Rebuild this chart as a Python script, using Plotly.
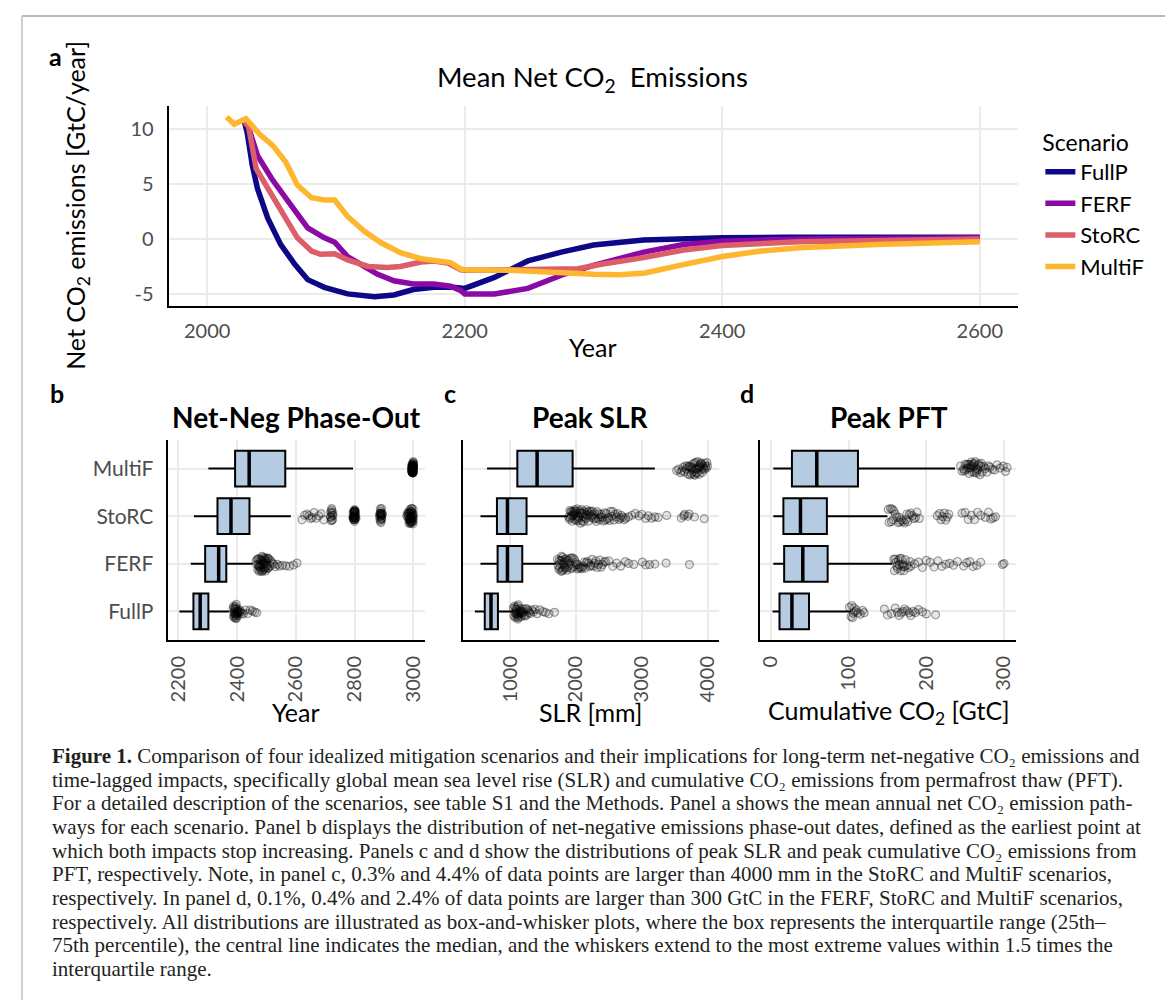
import plotly.graph_objects as go

W, H = 1173, 1000
def px(x): return x / W
def py(y): return 1 - y / H

# ---------------- DATA ----------------
scenarios = ["FullP", "FERF", "StoRC", "MultiF"]
colors = {"FullP": "#0d0887", "FERF": "#8b0aa5", "StoRC": "#dc5e69", "MultiF": "#feb62f"}

# Panel a: mean net CO2 emissions [GtC/year]
fullp_years = [2029, 2031, 2035, 2039, 2047, 2057, 2068, 2078, 2091, 2109, 2130, 2145, 2160, 2176, 2191,
               2200, 2223, 2249, 2275, 2300, 2339, 2370, 2400, 2450, 2500, 2550, 2600]
fullp_vals = [10.6, 9.7, 6.7, 4.6, 1.9, -0.5, -2.3, -3.7, -4.4, -5.0, -5.25, -5.1, -4.6, -4.4, -4.4,
              -4.5, -3.5, -2.0, -1.2, -0.55, -0.1, 0.05, 0.1, 0.15, 0.15, 0.15, 0.15]
ferf_years = [2029, 2032, 2039, 2050, 2063, 2078, 2091, 2099, 2109, 2119, 2132, 2145, 2160, 2176, 2189,
              2197, 2200, 2223, 2249, 2275, 2300, 2339, 2370, 2400, 2460, 2520, 2600]
ferf_vals = [10.6, 10.2, 7.6, 5.5, 3.4, 1.0, 0.1, -0.3, -1.6, -2.3, -3.2, -3.8, -4.1, -4.1, -4.3,
             -4.7, -5.0, -5.0, -4.5, -3.3, -2.4, -1.2, -0.5, -0.2, 0.0, 0.05, 0.1]
storc_years = [2029, 2032, 2038, 2050, 2060, 2070, 2081, 2088, 2099, 2109, 2125, 2140, 2150, 2166, 2176,
               2187, 2197, 2200, 2236, 2288, 2306, 2339, 2370, 2400, 2460, 2520, 2600]
storc_vals = [10.6, 10.3, 6.4, 4.0, 2.2, 0.1, -1.1, -1.4, -1.35, -1.9, -2.5, -2.6, -2.5, -2.1, -2.0,
              -2.2, -2.8, -2.85, -2.8, -2.7, -2.3, -1.7, -1.0, -0.6, -0.25, -0.1, 0.0]
multif_years = [2015, 2021, 2030, 2041, 2051, 2061, 2070, 2081, 2091, 2099, 2109, 2122, 2135, 2150, 2166,
                2181, 2189, 2197, 2200, 2236, 2275, 2300, 2320, 2340, 2367, 2400, 2430, 2460, 2520, 2600]
multif_vals = [11.1, 10.45, 10.95, 9.5, 8.5, 7.0, 4.9, 3.75, 3.55, 3.55, 2.05, 0.7, -0.35, -1.25, -1.8,
               -2.0, -2.15, -2.75, -2.8, -2.85, -3.1, -3.2, -3.25, -3.1, -2.4, -1.6, -1.1, -0.8, -0.5, -0.25]

# Panel b: net-negative phase-out year (box stats per scenario, order = scenarios)
po_low = [2203, 2242, 2253, 2302]
po_q1 = [2251, 2291, 2333, 2393]
po_med = [2274, 2337, 2379, 2441]
po_q3 = [2302, 2363, 2442, 2564]
po_high = [2374, 2453, 2583, 2795]
po_out_fullp = [2386, 2388, 2389, 2390, 2391, 2392, 2393, 2394, 2395, 2396, 2397, 2398, 2399, 2400, 2401,
                2402, 2403, 2405, 2407, 2409, 2412, 2416, 2421, 2428, 2436, 2444, 2452, 2460, 2467,
                2388, 2391, 2394, 2397, 2400, 2392, 2396]
po_out_ferf = [2465, 2467, 2469, 2471, 2472, 2474, 2475, 2476, 2478, 2479, 2480, 2481, 2483, 2484, 2485,
               2486, 2487, 2489, 2490, 2491, 2492, 2493, 2495, 2496, 2497, 2498, 2500, 2501, 2503, 2505,
               2507, 2509, 2512, 2515, 2519, 2524, 2530, 2537, 2545, 2555, 2566, 2578, 2592, 2604,
               2470, 2476, 2482, 2488, 2494, 2499, 2504]
po_out_storc = [2621, 2630, 2638, 2645, 2650, 2656, 2662, 2670, 2678, 2686, 2695,
                2718, 2719, 2720, 2720, 2721, 2722, 2722, 2723, 2724, 2725, 2726, 2727,
                2794, 2795, 2796, 2797, 2798, 2798, 2799, 2799, 2800, 2800, 2800, 2801, 2801, 2802, 2802,
                2803, 2804, 2805, 2796, 2798, 2800, 2802, 2799, 2801, 2797, 2803, 2800, 2799, 2801,
                2885, 2886, 2887, 2888, 2889, 2890, 2890, 2891, 2892, 2893, 2894, 2895, 2888, 2890, 2892,
                2889, 2891, 2887, 2893, 2890,
                2978, 2980, 2982, 2984, 2985, 2986, 2987, 2988, 2989, 2990, 2990, 2991, 2992, 2993, 2994,
                2995, 2995, 2996, 2997, 2998, 2999, 3000, 3000, 3000, 2983, 2986, 2989, 2992, 2995, 2998,
                2988, 2991, 2994, 2997, 3000, 2985, 2990, 2995, 3000, 2993]
po_out_multif = [2995, 2996, 2996, 2997, 2997, 2998, 2998, 2998, 2999, 2999, 2999, 3000, 3000, 3000, 3000,
                 2995, 2996, 2997, 2998, 2999, 3000, 3000, 2996, 2997, 2998, 2999, 3000, 2995, 2997, 2999,
                 3000, 2996, 2998, 3000, 2997, 2999, 3000, 2998, 2996, 3000, 2997, 2998, 2999, 3000, 2996,
                 2998, 3000, 2997, 2999, 2995, 2998, 3000, 2996, 2999, 2997, 3000, 2998, 2999, 3000, 2997]

# Panel c: peak SLR [mm]
slr_low = [465, 550, 550, 650]
slr_q1 = [615, 810, 800, 1110]
slr_med = [710, 960, 960, 1410]
slr_q3 = [815, 1185, 1250, 1950]
slr_high = [1050, 1700, 1875, 3200]
slr_out_fullp = [1050, 1058, 1065, 1072, 1078, 1083, 1088, 1092, 1096, 1100, 1104, 1108, 1112, 1116, 1120,
                 1125, 1130, 1135, 1140, 1146, 1152, 1158, 1165, 1172, 1180, 1188, 1196, 1205, 1215, 1225,
                 1236, 1248, 1260, 1275, 1290, 1310, 1330, 1355, 1380, 1410, 1450, 1500, 1540, 1590, 1675]
slr_out_ferf = [1720, 1730, 1740, 1748, 1755, 1762, 1770, 1776, 1782, 1788, 1795, 1800, 1806, 1812, 1818,
                1825, 1832, 1840, 1848, 1856, 1865, 1874, 1883, 1892, 1902, 1912, 1922, 1933, 1944, 1955,
                1967, 1980, 1993, 2006, 2020, 2034, 2048, 2062, 2077, 2092, 2108, 2124, 2140, 2157, 2174,
                2192, 2210, 2228, 2246, 2265, 2284, 2303, 2323, 2343, 2364, 2385, 2406, 2428, 2450, 2500,
                2560, 2620, 2680, 2750, 2800, 2880, 3010, 3060, 3120, 3200, 3370, 3725]
slr_out_storc = [1890, 1900, 1908, 1915, 1922, 1930, 1937, 1944, 1950, 1957, 1964, 1970, 1977, 1984, 1990,
                 1997, 2004, 2010, 2018, 2025, 2032, 2040, 2047, 2055, 2062, 2070, 2078, 2086, 2094, 2102,
                 2110, 2118, 2126, 2135, 2144, 2153, 2162, 2171, 2180, 2190, 2200, 2210, 2220, 2230, 2240,
                 2250, 2262, 2274, 2286, 2298, 2310, 2323, 2336, 2349, 2362, 2376, 2390, 2404, 2418, 2433,
                 2448, 2463, 2478, 2494, 2510, 2527, 2544, 2561, 2579, 2597, 2615, 2634, 2653, 2672, 2692,
                 2712, 2733, 2755, 2800, 2850, 2900, 2960, 3000, 3060, 3100, 3150, 3200, 3250, 3380, 3600,
                 3640, 3650, 3700, 3720, 3800, 3950]
slr_out_multif = [3530, 3560, 3590, 3610, 3630, 3650, 3665, 3680, 3695, 3705, 3715, 3725, 3735, 3745, 3755,
                  3762, 3770, 3778, 3785, 3792, 3800, 3808, 3815, 3822, 3830, 3838, 3845, 3852, 3860, 3868,
                  3875, 3882, 3890, 3898, 3905, 3912, 3920, 3930, 3940, 3950, 3960, 3970, 3980, 3990, 4000]

# Panel d: peak cumulative CO2 from permafrost thaw [GtC]
pft_low = [2, 3, 3, 3]
pft_q1 = [11, 17, 16, 27]
pft_med = [27, 41, 38, 59]
pft_q3 = [49, 73, 72, 112]
pft_high = [103, 156, 150, 237]
pft_out_fullp = [101, 103, 104, 105, 106, 107, 108, 110, 112, 115, 118, 120,
                 146, 150, 155, 160, 163, 165, 168, 170, 172, 175, 178, 180, 183, 186, 190, 195, 200, 212]
pft_out_ferf = [158, 159, 160, 161, 162, 163, 164, 165, 166, 167, 168, 169, 170, 171, 172, 173, 175, 177,
                179, 180, 185, 190, 195, 200, 205, 210, 215, 220, 225, 230, 235, 240, 248, 252, 256, 260,
                265, 270, 298, 300]
pft_out_storc = [151, 152, 154, 155, 156, 157, 158, 160, 162, 164, 165, 166, 168, 170, 172, 174, 175, 176,
                 178, 180, 182, 184, 186, 188, 191, 214, 217, 219, 221, 223, 225, 227, 229,
                 246, 250, 254, 258, 262, 266, 270, 276, 280, 283, 286, 289]
pft_out_multif = [244, 246, 248, 249, 250, 251, 252, 253, 254, 255, 256, 257, 258, 259, 260, 261, 262, 263,
                  264, 265, 266, 267, 268, 269, 270, 271, 272, 274, 276, 278, 280, 282, 285, 288, 291, 295,
                  299, 302, 304, 255, 258, 262, 265]

caption_lines = [
    "<b>Figure 1.</b> Comparison of four idealized mitigation scenarios and their implications for long-term net-negative CO₂ emissions and",
    "time-lagged impacts, specifically global mean sea level rise (SLR) and cumulative CO₂ emissions from permafrost thaw (PFT).",
    "For a detailed description of the scenarios, see table S1 and the Methods. Panel a shows the mean annual net CO₂ emission path-",
    "ways for each scenario. Panel b displays the distribution of net-negative emissions phase-out dates, defined as the earliest point at",
    "which both impacts stop increasing. Panels c and d show the distributions of peak SLR and peak cumulative CO₂ emissions from",
    "PFT, respectively. Note, in panel c, 0.3% and 4.4% of data points are larger than 4000 mm in the StoRC and MultiF scenarios,",
    "respectively. In panel d, 0.1%, 0.4% and 2.4% of data points are larger than 300 GtC in the FERF, StoRC and MultiF scenarios,",
    "respectively. All distributions are illustrated as box-and-whisker plots, where the box represents the interquartile range (25th–",
    "75th percentile), the central line indicates the median, and the whiskers extend to the most extreme values within 1.5 times the",
    "interquartile range.",
]

# ---------------- FIGURE ----------------
FONT = "Lato"
GRID = "#ebebeb"
TICK = "#4d4d4d"
fig = go.Figure()

series = [("FullP", fullp_years, fullp_vals), ("FERF", ferf_years, ferf_vals),
          ("StoRC", storc_years, storc_vals), ("MultiF", multif_years, multif_vals)]
for name, xs, ys in series:
    fig.add_trace(go.Scatter(x=xs, y=ys, mode="lines", name=name,
                             line=dict(color=colors[name], width=5.5), xaxis="x", yaxis="y"))

BOXFILL = "#b4cbe2"
def add_box_panel(ax, low, q1, med, q3, high, outs):
    xa, ya = ("x" + ax, "y" + ax)
    fig.add_trace(go.Box(y=scenarios, q1=q1, median=med, q3=q3, lowerfence=low, upperfence=high,
                         orientation="h", boxpoints=False, width=0.75, whiskerwidth=0,
                         fillcolor=BOXFILL, line=dict(color="black", width=2),
                         showlegend=False, xaxis=xa, yaxis=ya, hoverinfo="skip"))
    fig.add_trace(go.Box(y=scenarios, q1=med, median=med, q3=med, lowerfence=med, upperfence=med,
                         orientation="h", boxpoints=False, width=0.75, whiskerwidth=0,
                         fillcolor="rgba(0,0,0,0)", line=dict(color="black", width=3.5),
                         showlegend=False, xaxis=xa, yaxis=ya, hoverinfo="skip"))
    xs, ys = [], []
    for s, vals in zip(scenarios, outs):
        xs += vals
        ys += [s] * len(vals)
    fig.add_trace(go.Box(x=xs, y=ys, orientation="h", boxpoints="all", jitter=0.45, pointpos=0,
                         width=0.75, fillcolor="rgba(0,0,0,0)",
                         line=dict(color="rgba(0,0,0,0)", width=0),
                         marker=dict(symbol="circle", size=8, color="rgba(0,0,0,0.1)",
                                     line=dict(width=1.2, color="rgba(0,0,0,0.35)")),
                         showlegend=False, xaxis=xa, yaxis=ya, hoverinfo="skip"))

add_box_panel("2", po_low, po_q1, po_med, po_q3, po_high,
              [po_out_fullp, po_out_ferf, po_out_storc, po_out_multif])
add_box_panel("3", slr_low, slr_q1, slr_med, slr_q3, slr_high,
              [slr_out_fullp, slr_out_ferf, slr_out_storc, slr_out_multif])
add_box_panel("4", pft_low, pft_q1, pft_med, pft_q3, pft_high,
              [pft_out_fullp, pft_out_ferf, pft_out_storc, pft_out_multif])

def axis_common(size=20):
    return dict(showgrid=True, gridcolor=GRID, gridwidth=1.6, zeroline=False, showline=True,
                linecolor="black", linewidth=2, ticks="",
                tickfont=dict(family=FONT, size=size, color=TICK))

layout = dict(
    width=W, height=H, margin=dict(l=0, r=0, t=0, b=0),
    paper_bgcolor="white", plot_bgcolor="white", boxmode="overlay",
    font=dict(family=FONT, color="black"),
    xaxis=dict(domain=[px(158), px(1010)], range=[1970, 2630], tickvals=[2000, 2200, 2400, 2600],
               anchor="y", ticklabelstandoff=6, **axis_common(20)),
    yaxis=dict(domain=[py(298), py(98)], range=[-6.1, 12.1], tickvals=[-5, 0, 5, 10],
               ticktext=["-5", "0", "5", "10"], anchor="x", ticklabelstandoff=9, **axis_common(20)),
    legend=dict(x=px(1032), y=py(113), xanchor="left", yanchor="top",
                font=dict(family=FONT, size=22, color="black"),
                title=dict(text="Scenario", font=dict(family=FONT, size=23, color="black")),
                bgcolor="rgba(0,0,0,0)", itemwidth=30),
)
panel_x = {"2": (157, 415, [2163, 3040], [2200, 2400, 2600, 2800, 3000]),
           "3": (453, 710, [282, 4177], [1000, 2000, 3000, 4000]),
           "4": (751, 1008, [-14, 316], [0, 100, 200, 300])}
for k, (l, r, rng, tv) in panel_x.items():
    layout["xaxis" + k] = dict(domain=[px(l), px(r)], range=rng, tickvals=tv, tickangle=-90,
                               anchor="y" + k, ticklabelstandoff=6, **axis_common(20))
    layout["yaxis" + k] = dict(domain=[py(632), py(432)], type="category", categoryorder="array",
                               categoryarray=scenarios, range=[-0.6, 3.6], anchor="x" + k,
                               showticklabels=(k == "2"), ticklabelstandoff=8, **axis_common(21))
fig.update_layout(**layout)

ann = []
def text(x, y, t, size, bold=False, angle=0, xanchor="center", color="black", family=FONT):
    ann.append(dict(x=px(x), y=py(y), xref="paper", yref="paper", text=f"<b>{t}</b>" if bold else t,
                    showarrow=False, xanchor=xanchor, yanchor="middle", textangle=angle,
                    font=dict(family=family, size=size, color=color)))

text(45, 48, "a", 25, bold=True)
text(583, 70, "Mean Net CO<sub>2</sub>  Emissions", 27.5)
text(66, 197, "Net CO<sub>2</sub> emissions [GtC/year]", 25, angle=-90)
text(583, 339, "Year", 25)
text(46, 385, "b", 25, bold=True)
text(440, 385, "c", 25, bold=True)
text(738, 385, "d", 25, bold=True)
text(286, 409, "Net-Neg Phase-Out", 28, bold=True)
text(581, 409, "Peak SLR", 28, bold=True)
text(880, 409, "Peak PFT", 28, bold=True)
text(286, 704, "Year", 25)
text(581, 704, "SLR [mm]", 25)
text(880, 704, "Cumulative CO<sub>2</sub> [GtC]", 25)

for i, line in enumerate(caption_lines):
    text(39, 748 + i * 23.65, line, 21, xanchor="left", color="#231f20", family="Liberation Serif")

fig.update_layout(annotations=ann)

fig.update_layout(shapes=[
    dict(type="line", xref="paper", yref="paper", x0=px(11), x1=px(1166), y0=py(8), y1=py(8),
         line=dict(color="#a0a0a0", width=1.5)),
    dict(type="line", xref="paper", yref="paper", x0=px(11), x1=px(11), y0=py(8), y1=py(1005),
         line=dict(color="#cfcfcf", width=2)),
    dict(type="line", xref="paper", yref="paper", x0=px(1166), x1=px(1166), y0=py(8), y1=py(1005),
         line=dict(color="#cfcfcf", width=2)),
])

fig.write_html("out.html")
